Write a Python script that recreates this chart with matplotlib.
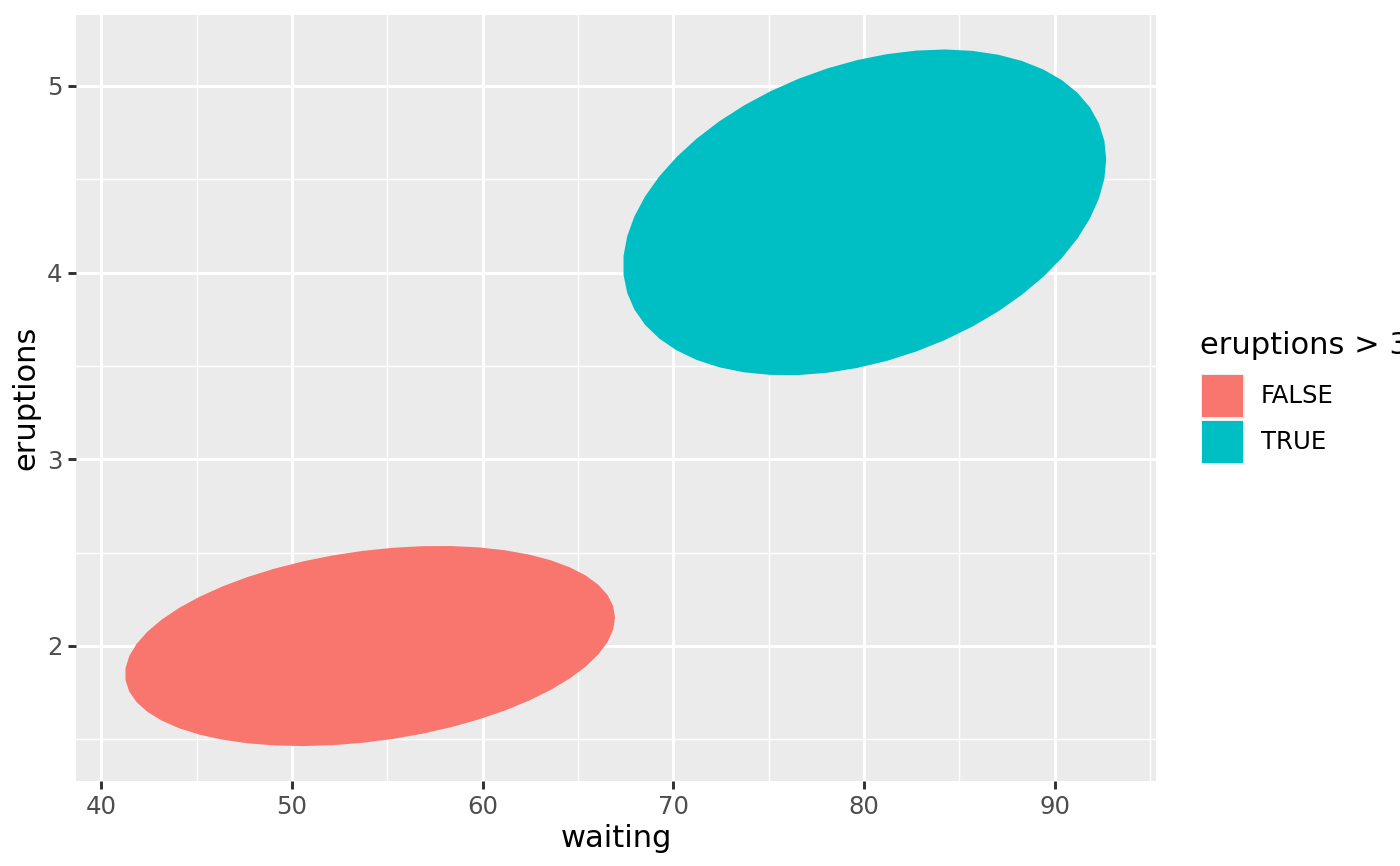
import numpy as np
import matplotlib
matplotlib.use("Agg")
import matplotlib.pyplot as plt
from matplotlib.patches import Polygon, Rectangle

# ellipse summaries (stat_ellipse)
groups = ["FALSE", "TRUE"]
colors = ["#F8766D", "#00BFC4"]
centers = [[54.09, 2.00], [80.03, 4.322]]
# scaled shape matrices [[sxx, sxy], [sxy, syy]]
shapes = [
    [[165.1, 1.95], [1.95, 0.2873]],
    [[160.5, 3.60], [3.60, 0.761]],
]
segments = 51

x_major = [40, 50, 60, 70, 80, 90]
x_minor = [45, 55, 65, 75, 85, 95]
y_major = [2, 3, 4, 5]
y_minor = [1.5, 2.5, 3.5, 4.5]

W, H = 1400, 866
fig = plt.figure(figsize=(7, 4.33), dpi=200)
ax = fig.add_axes([76 / W, 1 - 781 / H, (1156 - 76) / W, (781 - 15) / H])
ax.set_facecolor("#EBEBEB")
for s in ax.spines.values():
    s.set_visible(False)

ax.set_xlim(38.67, 95.31)
ax.set_ylim(1.277, 5.379)

for v in x_minor:
    ax.axvline(v, color="white", lw=0.53, zorder=0)
for v in y_minor:
    ax.axhline(v, color="white", lw=0.53, zorder=0)
for v in x_major:
    ax.axvline(v, color="white", lw=1.07, zorder=0)
for v in y_major:
    ax.axhline(v, color="white", lw=1.07, zorder=0)

angles = np.arange(segments + 1) * 2 * np.pi / segments
unit = np.column_stack([np.cos(angles), np.sin(angles)])
for c, m, col in zip(centers, shapes, colors):
    r = np.linalg.cholesky(np.array(m)).T
    pts = unit @ r + np.array(c)
    ax.add_patch(Polygon(pts, closed=True, facecolor=col, edgecolor="none", zorder=2))

ax.set_xticks(x_major)
ax.set_yticks(y_major)
ax.tick_params(length=7.6 * 72 / 200, width=1.07, color="#333333",
               labelsize=8.8, labelcolor="#4D4D4D", pad=2.2)
ax.set_xlabel("waiting", fontsize=11, labelpad=2)
ax.set_ylabel("eruptions", fontsize=11, labelpad=2.2)

# legend
fig.text(1200 / W, 1 - 345 / H, "eruptions > 3", fontsize=11, va="center", ha="left")
key_tops = [373, 419]
for top, col, lab in zip(key_tops, colors, groups):
    fig.add_artist(Rectangle((1200 / W, 1 - (top + 46) / H), 45 / W, 46 / H,
                             transform=fig.transFigure, facecolor="#EBEBEB",
                             edgecolor="white", lw=0.5))
    fig.add_artist(Rectangle((1202 / W, 1 - (top + 44) / H), 41 / W, 42 / H,
                             transform=fig.transFigure, facecolor=col,
                             edgecolor="none"))
    fig.text(1261 / W, 1 - (top + 23) / H, lab, fontsize=8.8, va="center", ha="left")

fig.savefig("out.png", dpi=200)
